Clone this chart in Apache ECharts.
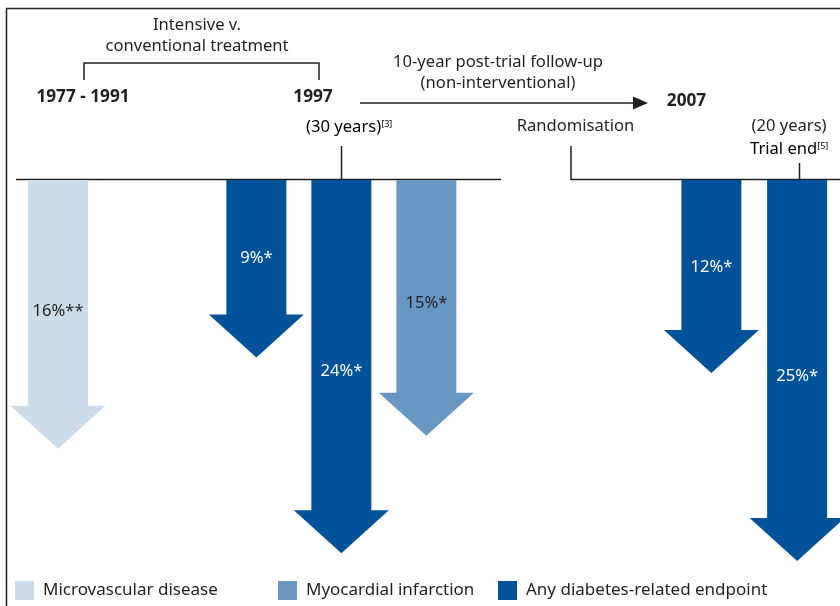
<!DOCTYPE html>
<html>
<head>
<meta charset="utf-8">
<script src="https://cdn.jsdelivr.net/npm/echarts@6/dist/echarts.min.js"></script>
<style>html,body{margin:0;padding:0;background:#fff}#c{width:840px;height:606px}</style>
</head>
<body>
<div id="c"></div>
<script>
// ---- data ----
const outcomes = ['Microvascular disease', 'Myocardial infarction', 'Any diabetes-related endpoint'];
// Intensive v. conventional treatment (UKPDS, 1997)
const trialOutcome = ['Microvascular disease', 'Any diabetes-related endpoint', 'Any diabetes-related endpoint', 'Myocardial infarction'];
const trialValues = [16, 9, 24, 15];
const trialLabels = ['16%**', '9%*', '24%*', '15%*'];
// 10-year post-trial follow-up (2007)
const followOutcome = ['Any diabetes-related endpoint', 'Any diabetes-related endpoint'];
const followValues = [12, 25];
const followLabels = ['12%*', '25%*'];

// ---- layout / style ----
const trialColumn = [0, 7, 10, 13];
const followColumn = [0, 1];
const colors = {
  'Microvascular disease': '#cddcea',
  'Myocardial infarction': '#6897c3',
  'Any diabetes-related endpoint': '#00539b'
};
const labelColors = {
  'Microvascular disease': '#231f20',
  'Myocardial infarction': '#231f20',
  'Any diabetes-related endpoint': '#ffffff'
};
const FONT = 'Noto Sans';
const FS = 16.6;
const INK = '#231f20';
const LEFT_MIN = -4.6, RIGHT_MIN = -1.35, YMAX = 26;

function makeRender(yMin, labels) {
  return function (params, api) {
    const x = api.value(0), v = api.value(1);
    const top = api.coord([x, yMin]);
    const tip = api.coord([x, v]);
    const cx = tip[0], y0 = top[1], yt = tip[1];
    const sw = 30, hw = 47.5, hh = 43;
    const yh = yt - hh;
    const name = params.seriesName;
    const L = yt - y0;
    return {
      type: 'group',
      children: [{
        type: 'polygon',
        shape: { points: [[cx - sw, y0], [cx + sw, y0], [cx + sw, yh], [cx + hw, yh], [cx, yt], [cx - hw, yh], [cx - sw, yh]] },
        style: { fill: colors[name] }
      }, {
        type: 'text',
        style: {
          x: cx, y: y0 + 0.58 * L - 25,
          text: labels[params.dataIndex],
          fill: labelColors[name], font: FS + 'px ' + FONT,
          align: 'center', verticalAlign: 'middle'
        }
      }]
    };
  };
}

const series = [];
function addSeries(values, outs, cols, labels, axisIdx, yMin) {
  outcomes.forEach(function (o) {
    const d = [], l = [];
    values.forEach(function (v, i) { if (outs[i] === o) { d.push([cols[i], v]); l.push(labels[i]); } });
    if (d.length) series.push({ type: 'custom', name: o, xAxisIndex: axisIdx, yAxisIndex: axisIdx,
      renderItem: makeRender(yMin, l), data: d, itemStyle: { color: colors[o] } });
  });
}
addSeries(trialValues, trialOutcome, trialColumn, trialLabels, 0, LEFT_MIN);
addSeries(followValues, followOutcome, followColumn, followLabels, 1, RIGHT_MIN);

const txt = (x, y, text, extra) => ({
  type: 'text', x: x, y: y,
  style: Object.assign({ text: text, fill: INK, font: FS + 'px ' + FONT, align: 'center', verticalAlign: 'middle' }, extra || {})
});
const line = (pts) => ({ type: 'polyline', shape: { points: pts }, style: { stroke: INK, lineWidth: 1.5, fill: null } });

const legendOf = (name, left) => ({
  data: [name], left: left, top: 581, icon: 'rect', itemWidth: 19, itemHeight: 19,
  selectedMode: false, padding: 0,
  textStyle: { fontFamily: FONT, fontSize: 17, color: INK, padding: [10, 0, 0, 4] }
});

const option = {
  animation: false,
  backgroundColor: '#fff',
  grid: [
    { left: 43.83, width: 396.7, top: 180, height: 30.6 * 13.05 },
    { left: 668.5, width: 174, top: 180, height: 27.35 * 14.46 }
  ],
  xAxis: [
    { gridIndex: 0, type: 'value', min: -0.5, max: 13.5, show: false },
    { gridIndex: 1, type: 'value', min: -0.5, max: 1.5, show: false }
  ],
  yAxis: [
    { gridIndex: 0, type: 'value', inverse: true, min: LEFT_MIN, max: YMAX, show: false },
    { gridIndex: 1, type: 'value', inverse: true, min: RIGHT_MIN, max: YMAX, show: false }
  ],
  legend: [
    legendOf('Microvascular disease', 15),
    legendOf('Myocardial infarction', 278),
    legendOf('Any diabetes-related endpoint', 498)
  ],
  series: series,
  graphic: [
    line([[6.5, 8], [6.5, 606]]),
    line([[6, 8.5], [840, 8.5]]),
    line([[84, 80], [84, 63], [319, 63], [319, 80]]),
    line([[16, 179.5], [501, 179.5]]),
    line([[341.5, 146], [341.5, 179.5]]),
    line([[571, 146], [571, 179.5], [840, 179.5]]),
    line([[799.5, 163], [799.5, 179.5]]),
    line([[360, 103], [634, 103]]),
    { type: 'polygon', shape: { points: [[633, 96.5], [648, 103], [633, 109.5]] }, style: { fill: INK } },
    txt(197, 25, 'Intensive v.'),
    txt(197, 46, 'conventional treatment'),
    txt(498, 62, '10-year post-trial follow-up'),
    txt(498, 83, '(non-interventional)'),
    txt(83, 97, '1977 - 1991', { font: 'bold 17.2px ' + FONT }),
    txt(313, 97, '1997', { font: 'bold 17.2px ' + FONT }),
    txt(686.5, 101, '2007', { font: 'bold 17.2px ' + FONT }),
    { type: 'text', x: 306, y: 127, style: { text: '{a|(30 years)}{s|[3]}', align: 'left', verticalAlign: 'middle',
        rich: { a: { fontFamily: FONT, fontSize: FS, color: INK }, s: { fontFamily: FONT, fontSize: 9, color: INK, padding: [0, 0, 6, 0] } } } },
    txt(575.5, 126, 'Randomisation'),
    txt(789, 126, '(20 years)'),
    { type: 'text', x: 750, y: 149, style: { text: '{a|Trial end}{s|[5]}', align: 'left', verticalAlign: 'middle',
        rich: { a: { fontFamily: FONT, fontSize: FS, color: INK }, s: { fontFamily: FONT, fontSize: 9, color: INK, padding: [0, 0, 6, 0] } } } }
  ]
};
echarts.init(document.getElementById('c'), null, { renderer: 'canvas' }).setOption(option);
</script>
</body>
</html>
